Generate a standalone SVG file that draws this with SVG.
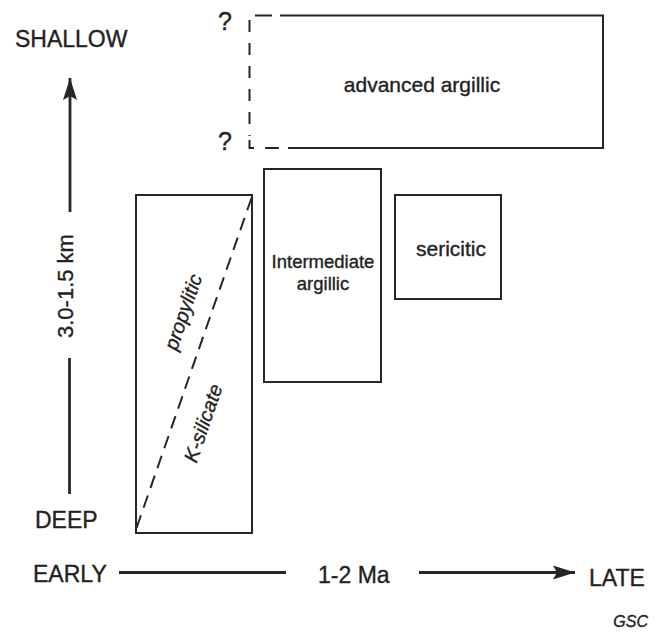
<svg xmlns="http://www.w3.org/2000/svg" width="656" height="637" viewBox="0 0 656 637">
<style>
  .t{font-family:"Liberation Sans",Arial,Helvetica,sans-serif;fill:#222222;stroke:#222222;stroke-width:0.35}
  .ax{font-size:23px}
  .box{fill:none;stroke:#262626;stroke-width:2}
  .axl{stroke:#262626;stroke-width:2.8;fill:none}
  .it{font-style:italic}
</style>
<defs>
  <marker id="ah" markerUnits="userSpaceOnUse" markerWidth="24" markerHeight="16" refX="22" refY="8" orient="auto" viewBox="0 0 24 16">
    <path d="M0,1 L22,8 L0,15 L4,8 Z" fill="#262626"/>
  </marker>
</defs>
<rect width="656" height="637" fill="#ffffff"/>

<g id="axes">
  <line class="axl" x1="70" y1="212" x2="70" y2="78" marker-end="url(#ah)"/>
  <line class="axl" x1="69.5" y1="358" x2="69.5" y2="494"/>
  <line class="axl" x1="119" y1="572.5" x2="286" y2="572.5"/>
  <line class="axl" x1="419" y1="572.5" x2="575" y2="572.5" marker-end="url(#ah)"/>
</g>

<g id="labels">
  <text class="t ax" x="15" y="47">SHALLOW</text>
  <text class="t ax" x="35" y="528">DEEP</text>
  <text class="t ax" x="33" y="582">EARLY</text>
  <text class="t ax" x="318" y="583">1-2 Ma</text>
  <text class="t ax" x="589" y="586">LATE</text>
  <text class="t" font-size="22" transform="translate(72.5,338) rotate(-90)">3.0-1.5 km</text>
  <text class="t it" font-size="16" x="648" y="627" text-anchor="end">GSC</text>
  <text class="t" font-size="25" x="225" y="30" text-anchor="middle">?</text>
  <text class="t" font-size="25" x="225" y="150" text-anchor="middle">?</text>
</g>

<g id="advanced-argillic">
  <path class="box" d="M280,15.5 H603 V148 H288"/>
  <line class="box" x1="255" y1="15.5" x2="272" y2="15.5"/>
  <line class="box" x1="249.5" y1="20" x2="249.5" y2="136" stroke-dasharray="12 11"/>
  <path class="box" d="M249.5,140 V148 H254"/>
  <line class="box" x1="265" y1="148" x2="279" y2="148"/>
  <text class="t" font-size="21" x="422" y="92" text-anchor="middle">advanced argillic</text>
</g>

<g id="propylitic-k-silicate">
  <rect class="box" x="136" y="195" width="116" height="338"/>
  <line class="box" x1="251.5" y1="198" x2="136.5" y2="528" stroke-dasharray="13 8"/>
  <text class="t it" font-size="20" text-anchor="middle" transform="translate(183,312) rotate(-71)" y="7">propylitic</text>
  <text class="t it" font-size="20" text-anchor="middle" transform="translate(203,423) rotate(-71)" y="7">K-silicate</text>
</g>

<g id="intermediate-argillic">
  <rect class="box" x="264" y="169" width="117" height="213"/>
  <text class="t" font-size="18.5" x="323" y="268" text-anchor="middle">Intermediate</text>
  <text class="t" font-size="18.5" x="323" y="290" text-anchor="middle">argillic</text>
</g>

<g id="sericitic">
  <rect class="box" x="395" y="195" width="106" height="104"/>
  <text class="t" font-size="21" x="451" y="256" text-anchor="middle">sericitic</text>
</g>
</svg>
